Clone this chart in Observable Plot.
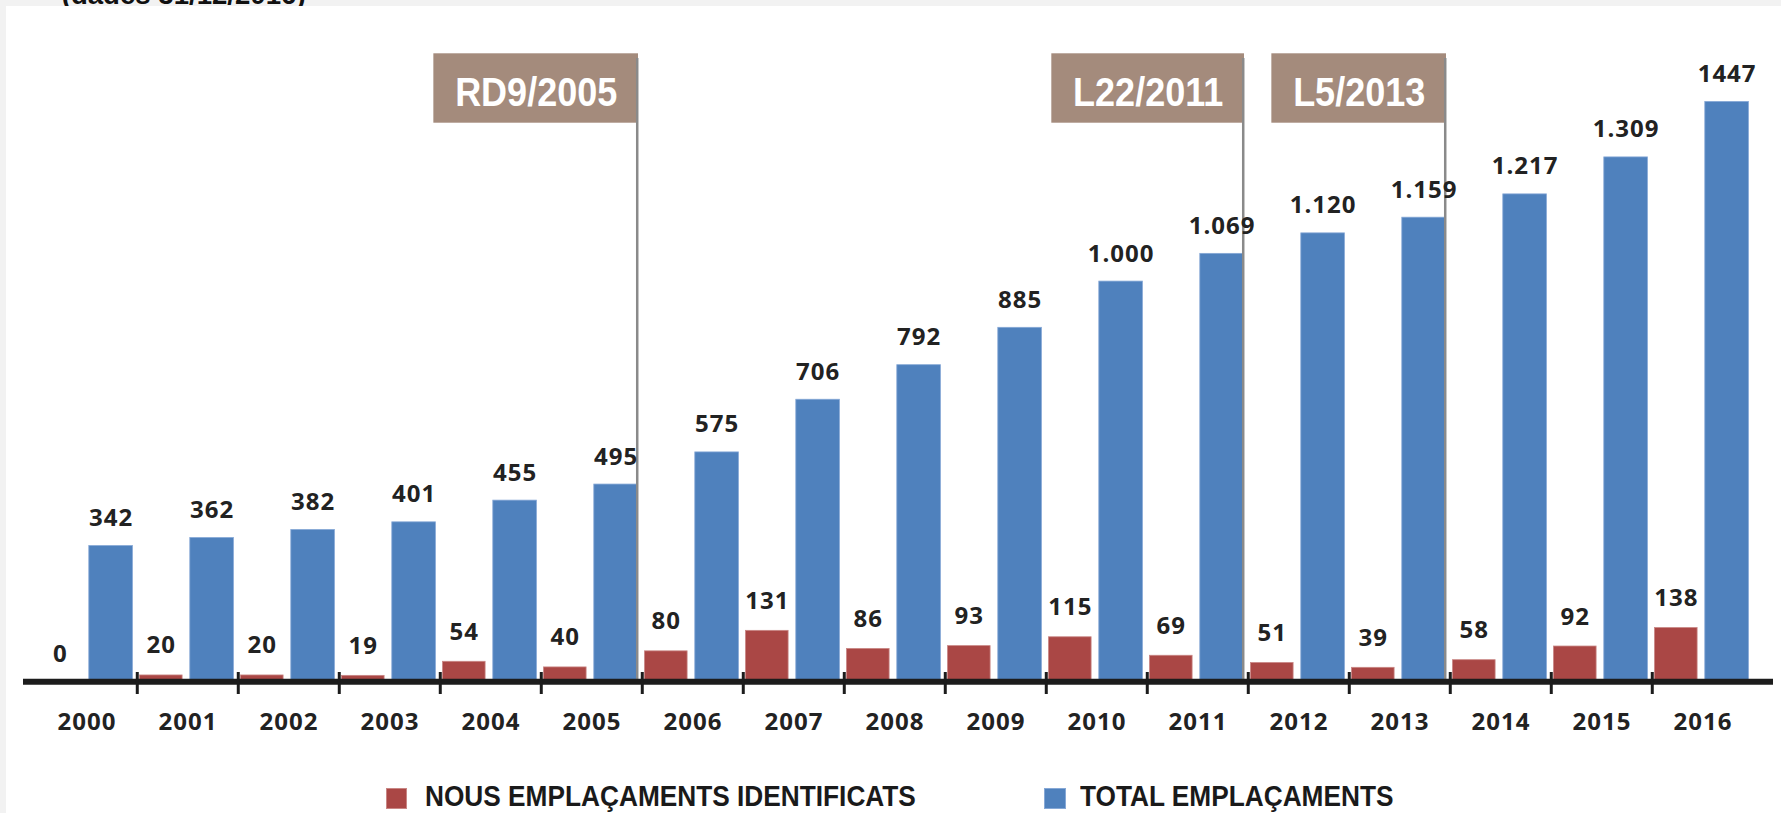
<!DOCTYPE html>
<html>
<head>
<meta charset="utf-8">
<script src="https://cdn.jsdelivr.net/npm/d3@7"></script>
<script src="https://cdn.jsdelivr.net/npm/@observablehq/plot@0.6"></script>
<style>
html,body{margin:0;padding:0;background:#f2f2f2;width:1781px;height:813px;overflow:hidden;}
#top{position:absolute;left:0;top:0;width:1781px;height:6px;overflow:hidden;}
#top span{position:absolute;left:61.7px;top:-18.9px;font:bold 27.6px "Liberation Sans",Arial,sans-serif;line-height:1;color:#111;white-space:nowrap;}
#panel{position:absolute;left:6px;top:6px;width:1775px;height:807px;background:#fff;overflow:hidden;}
#chart svg{display:block;}
#legend{position:relative;height:68px;}
.sw{position:absolute;width:21.6px;height:21.6px;top:42.7px;box-sizing:border-box;}
.lt{position:absolute;top:37.2px;font:bold 29px "Liberation Sans",Arial,sans-serif;line-height:1;color:#1a1a1a;white-space:nowrap;transform-origin:0 0;transform:scaleX(0.905);}
</style>
</head>
<body>
<div id="top"><span>(dades 31/12/2016)</span></div>
<div id="panel">
  <div id="chart"></div>
  <div id="legend"></div>
</div>
<script>
// ---- data ----
const years = [2000,2001,2002,2003,2004,2005,2006,2007,2008,2009,2010,2011,2012,2013,2014,2015,2016];
const nous  = [0,20,20,19,54,40,80,131,86,93,115,69,51,39,58,92,138];
const total = [342,362,382,401,455,495,575,706,792,885,1000,1069,1120,1159,1217,1309,1447];
const nousLabels  = ["0","20","20","19","54","40","80","131","86","93","115","69","51","39","58","92","138"];
const totalLabels = ["342","362","382","401","455","495","575","706","792","885","1.000","1.069","1.120","1.159","1.217","1.309","1447"];
const annotLabels = ["RD9/2005","L22/2011","L5/2013"];
const annotYears  = [2005,2011,2013];
const seriesNames = ["NOUS EMPLAÇAMENTS IDENTIFICATS","TOTAL EMPLAÇAMENTS"];

const RED = "#aa4745", BLUE = "#4f81bd", BOX = "#a48b7c";

const rowsN = years.map((y,i)=>({year:y, value:nous[i], label:nousLabels[i]}));
const rowsT = years.map((y,i)=>({year:y, value:total[i], label:totalLabels[i]}));
const annots = annotLabels.map((l,i)=>({label:l, year:annotYears[i]}));

// ---- layout ----
const W = 1775, H = 739;
const mL = 17, mR = 8, mT = 44, mB = 62;
const insL = 9, insR = 16.3;
const bw = (W - mL - mR - insL - insR) / years.length;

const labelFont = {fontFamily:"'Open Sans', 'DejaVu Sans', sans-serif", fontWeight:700, fontSize:24, fill:"#222"};

const ANN_FONT = "bold 40px 'Liberation Sans'";
const ctx = document.createElement("canvas").getContext("2d");
ctx.font = ANN_FONT;
const SQ = 0.9;

const annotMarks = annots.flatMap(a => {
  const tw = ctx.measureText(a.label).width * SQ;
  const boxW = tw + 43;
  return [
    Plot.cell([a], {x:"year", fill:BOX, insetTop:3.3, insetBottom:560.3, insetLeft: bw - 4 - boxW, insetRight:4}),
    Plot.text([a], {x:"year", text:"label", frameAnchor:"top", lineAnchor:"bottom", dy:55, dx: bw/2 - 4 - boxW/2,
      fill:"white", fontSize:40, fontWeight:"bold", fontFamily:"'Liberation Sans', Arial, sans-serif"})
  ];
});

const chart = Plot.plot({
  width: W, height: H,
  marginTop: mT, marginBottom: mB, marginLeft: mL, marginRight: mR,
  x: {type:"band", domain: years, padding: 0, insetLeft: insL, insetRight: insR, axis: null},
  y: {domain: [0, 1575], axis: null},
  style: {background:"transparent", overflow:"visible"},
  marks: [
    Plot.barY(rowsN, {x:"year", y:"value", fill:RED, stroke:"#c98684", strokeWidth:0.8, insetLeft:2.5, insetRight:55.9}),
    Plot.barY(rowsT, {x:"year", y:"value", fill:BLUE, stroke:"#86a8d6", strokeWidth:0.8, insetLeft:52.8, insetRight:4.6}),
    ...annotMarks,
    Plot.ruleX(annots, {x:"year", dx: bw/2 - 5.5, stroke:"#8a8a8a", strokeWidth:2.5, insetTop:8}),
    Plot.ruleY([0], {stroke:"#1c1c1c", strokeWidth:6, dy:-1.7}),
    Plot.ruleX(years.slice(1), {x:d=>d, dx: -bw/2, y1:0, y2:0, insetTop:-11, insetBottom:-11, stroke:"#1c1c1c", strokeWidth:3}),
    Plot.text(rowsN, {x:"year", y:"value", text:"label", dx: -26.7, dy:-22, lineAnchor:"bottom", ...labelFont}),
    Plot.text(rowsT, {x:"year", y:"value", text:"label", dx: 24.1, dy:-20, lineAnchor:"bottom", ...labelFont}),
    Plot.text(years, {x:d=>d, text:d=>String(d), frameAnchor:"bottom", lineAnchor:"bottom", dy:46.5, ...labelFont})
  ]
});
document.getElementById("chart").appendChild(chart);

// text styling: squeeze annotation labels, widen number labels
d3.select(chart).selectAll("text").each(function(){
  const s = this.textContent;
  if (annotLabels.includes(s)) {
    const L = this.getComputedTextLength();
    this.setAttribute("textLength", L * SQ);
    this.setAttribute("lengthAdjust", "spacingAndGlyphs");
  } else {
    this.style.letterSpacing = "1px";
  }
});

// ---- legend ----
const legend = document.getElementById("legend");
const legendItems = [
  {name: seriesNames[0], color: RED, border:"#c98684", sx: 379.7, tx: 419},
  {name: seriesNames[1], color: BLUE, border:"#86a8d6", sx: 1038.3, tx: 1074}
];
legendItems.forEach(it => {
  const s = document.createElement("div");
  s.className = "sw"; s.style.left = it.sx + "px"; s.style.background = it.color; s.style.border = "1px solid " + it.border;
  legend.appendChild(s);
  const t = document.createElement("div");
  t.className = "lt"; t.style.left = it.tx + "px"; t.textContent = it.name;
  legend.appendChild(t);
});
</script>
</body>
</html>
